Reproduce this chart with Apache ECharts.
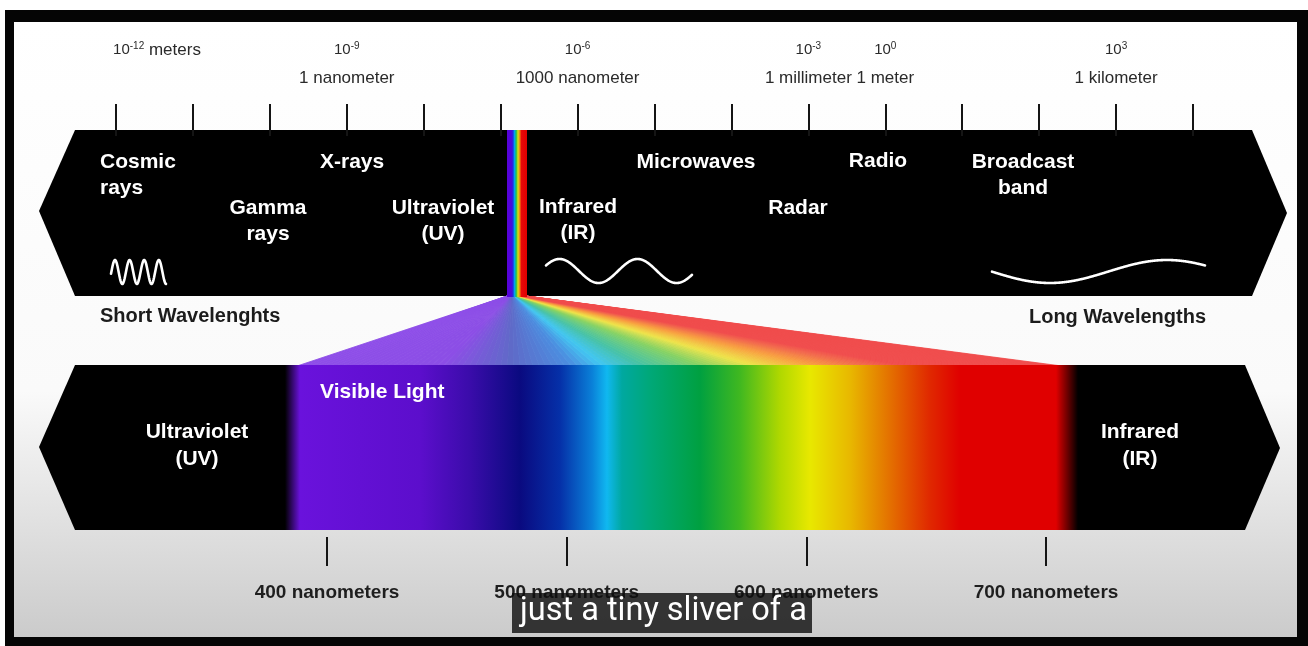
<!DOCTYPE html>
<html>
<head>
<meta charset="utf-8">
<script src="https://cdn.jsdelivr.net/npm/echarts@6/dist/echarts.min.js"></script>
<style>html,body{margin:0;padding:0;background:#fff;}#c{width:1308px;height:646px;}</style>
</head>
<body>
<div id="c"></div>
<script>
// ---- data ----
const rulerTicks = ['0','1','2','3','4','5','6','7','8','9','10','11','12','13','14'];
const rulerExponents = ['-12','','','-9','','','-6','','','-3','0','','','3',''];
const rulerNames = ['meters','','','1 nanometer','','','1000 nanometer','','','1 millimeter','1 meter','','','1 kilometer',''];
const visibleTicks = [400, 500, 600, 700];
const visibleUnit = 'nanometers';
const topBandLabels = [['Cosmic','rays'],['X-rays'],['Gamma','rays'],['Ultraviolet','(UV)'],['Infrared','(IR)'],['Microwaves'],['Radar'],['Radio'],['Broadcast','band']];
const bottomBandLabels = [['Ultraviolet','(UV)'],['Visible Light'],['Infrared','(IR)']];
const sideLabels = ['Short Wavelenghts','Long Wavelengths'];
const captionText = 'just a tiny sliver of a';

// ---- layout / style ----
const FONT = '"Liberation Sans", Arial, Helvetica, sans-serif';
const topLayout = [[100,162,'left'],[320,162,'left'],[268,208,'center'],[443,208,'center'],[578,207,'center'],[696,162,'center'],[798,208,'center'],[878,161,'center'],[1023,162,'center']];
const bottomLayout = [[197,432,'center'],[320,392,'left'],[1140,432,'center']];

function hexToRgb(h){h=h.replace('#','');return [parseInt(h.substr(0,2),16),parseInt(h.substr(2,2),16),parseInt(h.substr(4,2),16)];}
function sampleStops(stops,u){
  for(let i=0;i<stops.length-1;i++){
    const a=stops[i],b=stops[i+1];
    if(u>=a[0]&&u<=b[0]){
      const t=(u-a[0])/((b[0]-a[0])||1);
      const ca=hexToRgb(a[1]),cb=hexToRgb(b[1]);
      const c=ca.map((v,k)=>Math.round(v+(cb[k]-v)*t));
      return 'rgb('+c.join(',')+')';
    }
  }
  return stops[stops.length-1][1];
}

const graphics = [];
// background & frame
graphics.push({type:'rect',shape:{x:0,y:0,width:1308,height:646},style:{fill:'#ffffff'},z:0});
graphics.push({type:'rect',shape:{x:14,y:22,width:1283,height:615},style:{fill:new echarts.graphic.LinearGradient(0,0,0,1,[
  {offset:0,color:'#ffffff'},{offset:0.6,color:'#fafafa'},{offset:0.8,color:'#e2e2e2'},{offset:1,color:'#cbcbcb'}])},z:0});
[[5,10,1303,12],[5,10,9,636],[1297,10,11,636],[5,637,1303,9]].forEach(r=>{
  graphics.push({type:'rect',shape:{x:r[0],y:r[1],width:r[2],height:r[3]},style:{fill:'#050505'},z:1});
});

// top band
graphics.push({type:'polygon',shape:{points:[[75,130],[1252,130],[1287,213],[1252,296],[75,296],[39,211]]},style:{fill:'#000'},z:1});
// rainbow sliver in top band
graphics.push({type:'rect',shape:{x:507,y:130,width:20,height:167},style:{fill:new echarts.graphic.LinearGradient(0,0,1,0,[
  {offset:0,color:'#5a00d8'},{offset:0.22,color:'#4a08dc'},{offset:0.3,color:'#2030e0'},{offset:0.38,color:'#00a8f0'},
  {offset:0.46,color:'#20c050'},{offset:0.55,color:'#e0e010'},{offset:0.64,color:'#f08010'},{offset:0.72,color:'#e80808'},{offset:1,color:'#e00000'}])},z:2});

// fan from sliver to visible band
const fanStops = [[0,'#8e4ee8'],[0.19,'#8c4ee6'],[0.28,'#5f6ac8'],[0.36,'#4c8ee0'],[0.40,'#42c6f2'],[0.45,'#46c2a8'],[0.53,'#86d264'],[0.60,'#eee44a'],[0.68,'#f8a040'],[0.75,'#f26a4c'],[0.80,'#f04c4c'],[1,'#f04c4c']];
const N = 120;
for(let i=0;i<N;i++){
  const s0=i/N,s1=(i+1)/N,sm=(s0+s1)/2;
  const c=sampleStops(fanStops,sm);
  graphics.push({type:'polygon',shape:{points:[[507+s0*19,296],[507+s1*19,296],[297+s1*765,366],[297+s0*765,366]]},
    style:{fill:c,stroke:c,lineWidth:0.8},z:1});
}

// bottom band
graphics.push({type:'polygon',shape:{points:[[75,365],[1245,365],[1280,448],[1245,530],[75,530],[39,447]]},style:{fill:'#000'},z:2});
const specStops = [[285,'#000000'],[300,'#6a12dc'],[420,'#5c0ecc'],[470,'#3a0caa'],[520,'#0a0a80'],[560,'#0530a8'],[592,'#0a80d8'],[607,'#10b8f0'],[622,'#00a8a0'],[650,'#00a878'],[700,'#00a040'],[740,'#40b820'],[780,'#b0d800'],[810,'#e8e800'],[850,'#e8b800'],[890,'#e47000'],[930,'#e02800'],[960,'#e00000'],[1056,'#e00000'],[1078,'#000000']];
graphics.push({type:'rect',shape:{x:285,y:365,width:793,height:165},style:{fill:new echarts.graphic.LinearGradient(0,0,1,0,
  specStops.map(s=>({offset:(s[0]-285)/793,color:s[1]})))},z:3});

// wave glyphs
function wave(x0,x1,cy,amp,period,phaseX){
  const pts=[];for(let x=x0;x<=x1;x+=0.5){pts.push([x,cy-amp*Math.cos(2*Math.PI*(x-phaseX)/period)]);}
  return {type:'polyline',shape:{points:pts,smooth:0},style:{stroke:'#fff',lineWidth:2.6,fill:null,lineCap:'round',lineJoin:'round'},z:4};
}
graphics.push(wave(111,166,272,12,14.6,115));
graphics.push(wave(546,692,271,12,78,559.5));
graphics.push(wave(992,1205,271.5,11.5,234,1167));

// texts
function txt(str,x,y,align,font,fill,z){
  return {type:'text',x:x,y:y,z:z||5,style:{text:str,font:font,fill:fill,textAlign:align,textVerticalAlign:'middle'}};
}
topBandLabels.forEach((lines,i)=>{
  const L=topLayout[i];
  lines.forEach((ln,j)=>graphics.push(txt(ln,L[0],L[1]+j*26,L[2],'bold 21px '+FONT,'#ffffff')));
});
bottomBandLabels.forEach((lines,i)=>{
  const L=bottomLayout[i];
  lines.forEach((ln,j)=>graphics.push(txt(ln,L[0],L[1]+j*27,L[2],'bold 21px '+FONT,'#ffffff')));
});
graphics.push(txt(sideLabels[0],100,316,'left','bold 20px '+FONT,'#1c1c1c'));
graphics.push(txt(sideLabels[1],1206,317,'right','bold 20px '+FONT,'#1c1c1c'));

// caption
graphics.push({type:'rect',shape:{x:512,y:593,width:300,height:40},style:{fill:'rgba(12,12,12,0.8)'},z:50});
graphics.push(txt(captionText,520,612,'left','32.5px Roboto, "Noto Sans", sans-serif','#ffffff',51));

const chart = echarts.init(document.getElementById('c'),null,{renderer:'canvas',width:1308,height:646});
chart.setOption({
  animation:false,
  backgroundColor:'transparent',
  graphic:{elements:graphics},
  grid:[
    {left:116,right:115,top:126,height:10,outerBoundsMode:'none',containLabel:false},
    {left:327,right:262,top:400,bottom:109,outerBoundsMode:'none',containLabel:false}
  ],
  xAxis:[
    {gridIndex:0,type:'category',data:rulerTicks,boundaryGap:false,position:'top',z:10,
     axisLine:{show:false},
     axisTick:{show:true,interval:0,length:32,lineStyle:{color:'#151515',width:2}},
     splitLine:{show:false},
     axisLabel:{show:true,interval:0,margin:34,color:'#2a2a2a',fontFamily:FONT,
       formatter:function(v,idx){
         const e=rulerExponents[idx],n=rulerNames[idx];
         if(!e) return '';
         if(idx===0) return '{sp|}{b|10}{s|'+e+'}{n| '+n+'}\n{n| }';
         return '{b|10}{s|'+e+'}\n{n|'+n+'}';
       },
       rich:{
         n:{fontSize:17,lineHeight:28,color:'#2a2a2a',fontFamily:FONT},
         b:{fontSize:15,lineHeight:28,color:'#2a2a2a',fontFamily:FONT},
         s:{fontSize:10,lineHeight:12,verticalAlign:'middle',padding:[0,0,7,0],color:'#2a2a2a',fontFamily:FONT},
         sp:{width:82,lineHeight:28}
       }}
    },
    {gridIndex:1,type:'value',min:400,max:700,interval:100,position:'bottom',z:10,
     axisLine:{show:false},
     axisTick:{show:true,length:29,lineStyle:{color:'#151515',width:2}},
     splitLine:{show:false},
     axisLabel:{show:true,margin:46,color:'#1e1e1e',fontSize:19,fontWeight:'bold',fontFamily:FONT,
       formatter:function(v){return v+' '+visibleUnit;}}
    }
  ],
  yAxis:[
    {gridIndex:0,type:'value',show:false,min:0,max:1},
    {gridIndex:1,type:'value',show:false,min:0,max:1}
  ],
  series:[
    {type:'line',xAxisIndex:0,yAxisIndex:0,data:[],silent:true},
    {type:'line',xAxisIndex:1,yAxisIndex:1,data:visibleTicks.map(v=>[v,null]),silent:true,showSymbol:false}
  ]
});
</script>
</body>
</html>
